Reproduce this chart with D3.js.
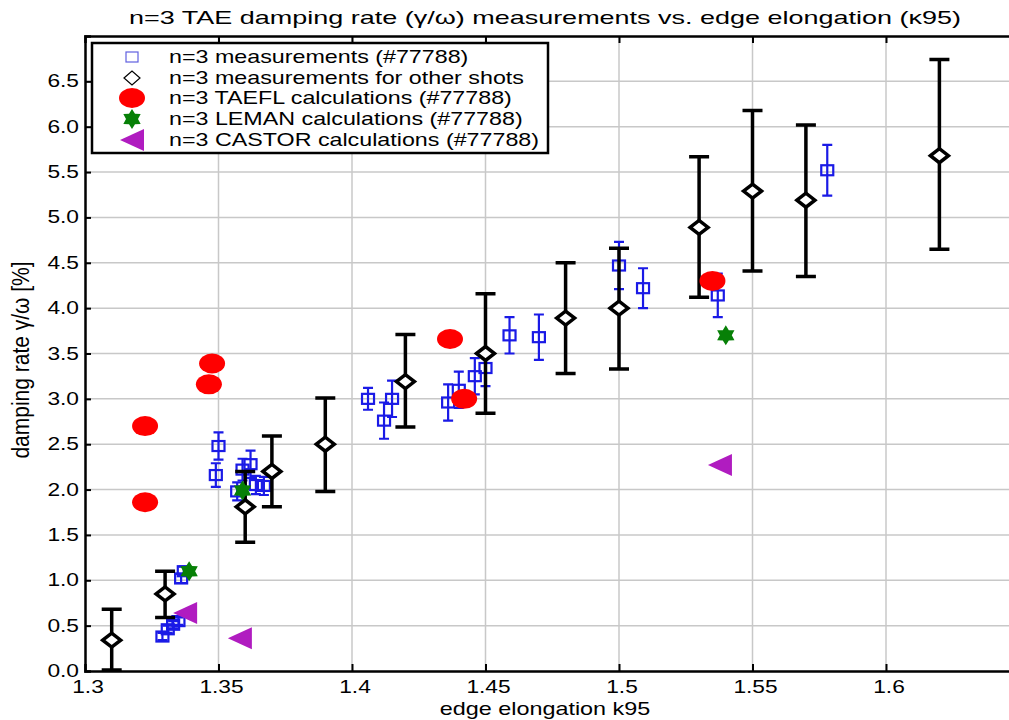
<!DOCTYPE html>
<html>
<head>
<meta charset="utf-8">
<script src="https://cdn.jsdelivr.net/npm/d3@7"></script>
<style>
  body { margin: 0; background: #fff; }
  text { font-family: "Liberation Sans", Arial, sans-serif; fill: #000; }
</style>
</head>
<body>
<div class="chart"></div>
<script>
// n=3 measurements for shot #77788 (blue squares)
var shotX = [1.329, 1.331, 1.333, 1.335, 1.336, 1.337,
  1.349, 1.350, 1.357, 1.359, 1.362, 1.364, 1.367,
  1.406, 1.412, 1.415, 1.436, 1.440, 1.446, 1.450,
  1.459, 1.470, 1.500, 1.509, 1.537, 1.578];
var shotY = [0.38, 0.46, 0.51, 0.55, 1.02, 1.10,
  2.16, 2.48, 1.98, 2.22, 2.28, 2.05, 2.04,
  3.00, 2.76, 3.00, 2.96, 3.10, 3.25, 3.34,
  3.70, 3.68, 4.47, 4.22, 4.14, 5.52];
var shotErr = [0.04, 0.04, 0.04, 0.04, 0.05, 0.05,
  0.13, 0.15, 0.10, 0.12, 0.15, 0.10, 0.10,
  0.12, 0.20, 0.20, 0.20, 0.20, 0.20, 0.20,
  0.20, 0.25, 0.26, 0.22, 0.24, 0.28];

// n=3 measurements for other shots (black diamonds)
var otherX = [1.31, 1.33, 1.36, 1.37, 1.39, 1.42, 1.45, 1.48, 1.50, 1.53, 1.55, 1.57, 1.62];
var otherY = [0.34, 0.85, 1.81, 2.20, 2.50, 3.19, 3.50, 3.89, 4.00, 4.89, 5.29, 5.19, 5.68];
var otherLo = [0.01, 0.59, 1.42, 1.81, 1.98, 2.69, 2.84, 3.28, 3.33, 4.12, 4.41, 4.35, 4.65];
var otherHi = [0.68, 1.10, 2.20, 2.59, 3.01, 3.71, 4.16, 4.50, 4.66, 5.67, 6.18, 6.02, 6.74];

// calculations
var taeflX = [1.3225, 1.3225, 1.3476, 1.3464, 1.4367, 1.442, 1.535];
var taeflY = [2.70, 1.86, 3.39, 3.16, 3.66, 3.00, 4.30];
var lemanX = [1.339, 1.359, 1.540];
var lemanY = [1.10, 1.99, 3.70];
var castorX = [1.3375, 1.358, 1.5378];
var castorY = [0.64, 0.36, 2.27];

var xTicks = [1.3, 1.35, 1.4, 1.45, 1.5, 1.55, 1.6];
var yTicks = [0, 0.5, 1, 1.5, 2, 2.5, 3, 3.5, 4, 4.5, 5, 5.5, 6, 6.5];

var legendLabels = ["n=3 measurements (#77788)", "n=3 measurements for other shots",
  "n=3 TAEFL calculations (#77788)", "n=3 LEMAN calculations (#77788)",
  "n=3 CASTOR calculations (#77788)"];

var W = 1009, H = 720;
var svg = d3.select(".chart").append("svg").attr("width", W).attr("height", H);

//plot area, the right edge runs past the picture
var x = d3.scaleLinear().domain([1.3, 1.65]).range([85, 1019.5]);
var y = d3.scaleLinear().domain([0, 7]).range([671, 36]);

// text in the original is stretched sideways
function stretchText(g, tx, ty, str, size, anchor, sx, rot) {
  var tr = "translate(" + tx + "," + ty + ")" + (rot ? " rotate(-90) scale(1," + sx + ")" : " scale(" + sx + ",1)");
  return g.append("text")
    .attr("transform", tr)
    .attr("font-size", size)
    .attr("text-anchor", anchor || "start")
    .text(str);
}

//grid
var grid = svg.append("g");
grid.selectAll(".gx").data(xTicks.slice(1)).enter().append("line")
  .attr("x1", d => x(d)).attr("x2", d => x(d))
  .attr("y1", y(0)).attr("y2", y(7))
  .attr("stroke", "#c8c8c8").attr("stroke-width", 1.5);
grid.selectAll(".gy").data(yTicks.slice(1)).enter().append("line")
  .attr("x1", x(1.3)).attr("x2", x(1.65))
  .attr("y1", d => y(d)).attr("y2", d => y(d))
  .attr("stroke", "#c8c8c8").attr("stroke-width", 1.5);

//axes with inward ticks
var xAxis = d3.axisBottom(x).tickValues(xTicks).tickSize(-7).tickFormat("");
svg.append("g").attr("transform", "translate(0," + y(0) + ")").call(xAxis);
var xTop = d3.axisTop(x).tickValues(xTicks).tickSize(-7).tickFormat("");
svg.append("g").attr("transform", "translate(0," + y(7) + ")").call(xTop);
var yAxis = d3.axisLeft(y).tickValues(yTicks).tickSize(-6).tickFormat("");
svg.append("g").attr("transform", "translate(" + x(1.3) + ",0)").call(yAxis);
svg.selectAll(".domain").attr("stroke", "#000").attr("stroke-width", 2.5);
svg.selectAll(".tick line").attr("stroke", "#000").attr("stroke-width", 2);
svg.selectAll(".tick").filter(d => d === 1.3 || d === 0).select("line").remove();

var labels = svg.append("g");
xTicks.forEach(function(d) {
  stretchText(labels, x(d) + 3, y(0) + 22, d3.format("")(d), 17.5, "middle", 1.3);
});
yTicks.forEach(function(d) {
  stretchText(labels, x(1.3) - 6, y(d) + 6, d3.format(".1f")(d), 17.5, "end", 1.3);
});

stretchText(svg, 545, 24, "n=3 TAE damping rate (\u03b3/\u03c9) measurements vs. edge elongation (\u03ba95)", 19, "middle", 1.42);
stretchText(svg, 545, 715, "edge elongation k95", 18, "middle", 1.3);
stretchText(svg, 29, 360, "damping rate \u03b3/\u03c9 [%]", 21, "middle", 1.15, true);

var marks = svg.append("g");

//blue measurements for #77788
var shots = shotX.map((d, i) => ({x: d, y: shotY[i], e: shotErr[i]}));
var sg = marks.selectAll(".shot").data(shots).enter().append("g")
  .attr("transform", d => "translate(" + x(d.x) + "," + y(d.y) + ")");
sg.append("path")
  .attr("d", d => {
    var h = y(d.y - d.e) - y(d.y);
    return "M0," + (-h) + "V" + h + "M-5," + (-h) + "H5M-5," + h + "H5";
  })
  .attr("stroke", "#1a1ae6").attr("stroke-width", 2.2).attr("fill", "none");
sg.append("rect").attr("x", -6).attr("y", -5).attr("width", 12).attr("height", 10)
  .attr("fill", "none").attr("stroke", "#1a1ae6").attr("stroke-width", 2.2);

//black measurements for other shots
var others = otherX.map((d, i) => ({x: d, y: otherY[i], lo: otherLo[i], hi: otherHi[i]}));
var og = marks.selectAll(".other").data(others).enter().append("g");
og.append("path")
  .attr("d", d => {
    var cx = x(d.x), t = y(d.hi), b = y(d.lo);
    return "M" + cx + "," + t + "V" + b + "M" + (cx - 10) + "," + t + "H" + (cx + 10) + "M" + (cx - 10) + "," + b + "H" + (cx + 10);
  })
  .attr("stroke", "#000").attr("stroke-width", 3.5).attr("fill", "none");
og.append("path")
  .attr("transform", d => "translate(" + x(d.x) + "," + y(d.y) + ")")
  .attr("d", "M-9,0L0,-7L9,0L0,7Z")
  .attr("fill", "#fff").attr("stroke", "#000").attr("stroke-width", 3.5);

var ellipse = "M-13,0A13,10 0 1,0 13,0A13,10 0 1,0 -13,0Z";
var star = d3.range(12).map(function(i) {
  var a = -Math.PI / 2 + i * Math.PI / 6, r = i % 2 ? 6 : 10;
  return [r * Math.cos(a), r * Math.sin(a)];
});
var starPath = "M" + star.map(p => p[0].toFixed(2) + "," + p[1].toFixed(2)).join("L") + "Z";
var tri = "M-12,0L12,-11L12,11Z";

marks.selectAll(".taefl").data(taeflX).enter().append("path")
  .attr("transform", (d, i) => "translate(" + x(d) + "," + y(taeflY[i]) + ")")
  .attr("d", ellipse).attr("fill", "#ff0000");
marks.selectAll(".leman").data(lemanX).enter().append("path")
  .attr("transform", (d, i) => "translate(" + x(d) + "," + y(lemanY[i]) + ")")
  .attr("d", starPath).attr("fill", "#078007");
marks.selectAll(".castor").data(castorX).enter().append("path")
  .attr("transform", (d, i) => "translate(" + x(d) + "," + y(castorY[i]) + ")")
  .attr("d", tri).attr("fill", "#b01cc0");

//legend
var lg = svg.append("g");
lg.append("rect").attr("x", 92).attr("y", 43).attr("width", 456).attr("height", 110)
  .attr("fill", "#fff").attr("stroke", "#000").attr("stroke-width", 2.5);
var ly = [57, 78, 98, 119, 140];
lg.append("rect").attr("x", 126).attr("y", ly[0] - 5).attr("width", 12).attr("height", 10)
  .attr("fill", "none").attr("stroke", "#6060e0").attr("stroke-width", 1.2);
lg.append("path").attr("transform", "translate(132," + ly[1] + ")")
  .attr("d", "M-8,0L0,-7L8,0L0,7Z").attr("fill", "#fff").attr("stroke", "#000").attr("stroke-width", 1.2);
lg.append("path").attr("transform", "translate(132," + ly[2] + ")").attr("d", ellipse).attr("fill", "#ff0000");
lg.append("path").attr("transform", "translate(132," + ly[3] + ")").attr("d", starPath).attr("fill", "#078007");
lg.append("path").attr("transform", "translate(132," + ly[4] + ")").attr("d", tri).attr("fill", "#b01cc0");
legendLabels.forEach(function(s, i) {
  stretchText(lg, 169, ly[i] + 6, s, 17.5, "start", 1.33);
});
</script>
</body>
</html>
